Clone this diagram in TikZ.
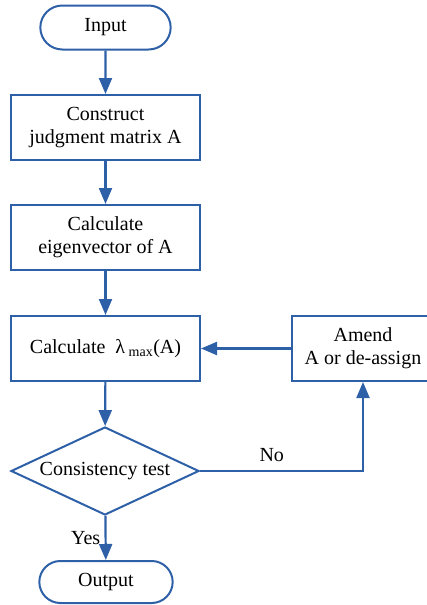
\documentclass[tikz,border=0pt]{standalone}
\usepackage{fontspec}
\setmainfont{Liberation Serif}
\usetikzlibrary{shapes.geometric,shapes.misc,arrows.meta}
\definecolor{flowblue}{RGB}{46,96,168}
\begin{document}
\begin{tikzpicture}[x=1pt,y=-1pt,
  every node/.style={font=\fontsize{20}{23}\selectfont},
  term/.style={draw=flowblue,line width=2pt,rounded rectangle,minimum width=137pt,minimum height=44pt},
  proc/.style={draw=flowblue,line width=2pt,rectangle,minimum width=189pt,minimum height=65pt,align=center},
  test/.style={draw=flowblue,line width=2pt,diamond,aspect=2.14,minimum width=188pt,minimum height=88pt,inner sep=1pt},
  flow/.style={draw=flowblue,line width=2.2pt,-{Triangle[length=16pt,width=13pt]}}]
 \useasboundingbox (0,0) rectangle (426,605);
 \node[term] (in) at (105.5,27.5) {Input};
 \node[proc] (c1) at (105.5,127.5) {Construct\\judgment matrix A};
 \node[proc] (c2) at (105.5,237.5) {Calculate\\eigenvector of A};
 \node[proc] (c3) at (105.5,348.5) {Calculate~~λ\textsubscript{~max}(A)};
 \node[proc,minimum width=142pt] (am) at (363,348.5) {Amend\\A or de-assign};
 \node[test] (dm) at (105,471) {Consistency test};
 \node[term,minimum width=140pt,minimum height=42pt] (out) at (106,582) {Output};
 \draw[flow] (in) -- (c1);
 \draw[flow] (c1) -- (c2);
 \draw[flow] (c2) -- (c3);
 \draw[flow] (c3) -- (dm);
 \draw[flow] (am) -- (c3);
 \draw[flow] (dm.east) -| (am.south) node[pos=0.22,above=5pt] {No};
 \draw[flow] (dm) -- (out) node[midway,left=1pt] {Yes};
\end{tikzpicture}
\end{document}
